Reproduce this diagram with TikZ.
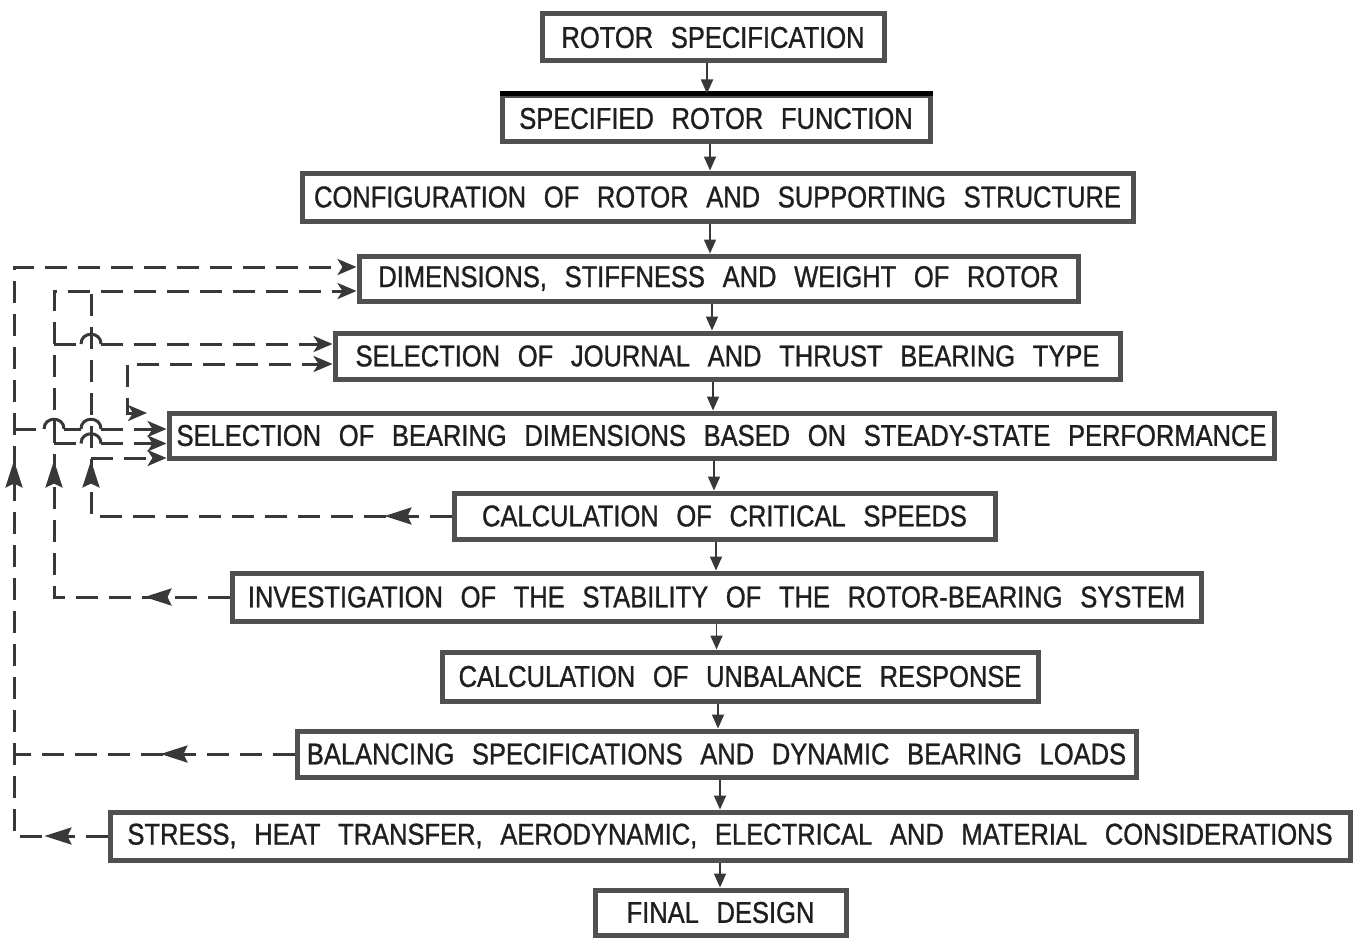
\documentclass[tikz,border=0pt]{standalone}
\usepackage{fontspec}
\setmainfont{Liberation Sans}[FakeStretch=0.85,WordSpace=2.5,FakeBold=1]
\usetikzlibrary{arrows.meta,decorations.markings,calc}
\definecolor{boxgray}{HTML}{505050}
\definecolor{linegray}{HTML}{383838}
\tikzset{
  stagebox/.style={draw=boxgray, line width=5pt, fill=white, inner sep=0pt,
    font=\fontsize{30}{36}\selectfont, text=black!88},
  flow/.style={draw=linegray, line width=1.8pt, -{Triangle[length=14pt,width=12pt]}},
  fbline/.style={draw=linegray, line width=3pt, dash pattern=on 22pt off 11pt},
  hopline/.style={draw=linegray, line width=3pt},
  intip/.style={-{Stealth[length=19pt,width=16pt,inset=5pt]}},
  midarr/.style={postaction={decorate, decoration={markings,
    mark=at position #1 with {\arrow{Stealth[length=27pt,width=17pt,inset=4pt]}}}}}
}
\begin{document}
\begin{tikzpicture}[x=1pt,y=-1pt]
\useasboundingbox[fill=white] (0,0) rectangle (1356,939);

% boxes
\node[stagebox, minimum width=342, minimum height=47] (b1) at (713,37.5) {ROTOR SPECIFICATION};
\node[stagebox, minimum width=428, minimum height=45] (b2) at (716,118.5) {SPECIFIED ROTOR FUNCTION};
\node[stagebox, minimum width=831, minimum height=48] (b3) at (717.5,197) {CONFIGURATION OF ROTOR AND SUPPORTING STRUCTURE};
\node[stagebox, minimum width=719, minimum height=45] (b4) at (718.5,278.5) {DIMENSIONS, STIFFNESS AND WEIGHT OF ROTOR};
\node[stagebox, minimum width=785, minimum height=46] (b5) at (727.5,356) {SELECTION OF JOURNAL AND THRUST BEARING TYPE};
\node[stagebox, minimum width=1105, minimum height=45] (b6) at (721.5,435.5) {SELECTION OF BEARING DIMENSIONS BASED ON STEADY-STATE PERFORMANCE};
\node[stagebox, minimum width=541, minimum height=46] (b7) at (724.5,516) {CALCULATION OF CRITICAL SPEEDS};
\node[stagebox, minimum width=969, minimum height=48] (b8) at (716.5,597) {INVESTIGATION OF THE STABILITY OF THE ROTOR-BEARING SYSTEM};
\node[stagebox, minimum width=596, minimum height=49] (b9) at (740,676.5) {CALCULATION OF UNBALANCE RESPONSE};
\node[stagebox, minimum width=839, minimum height=46] (b10) at (716.5,754) {BALANCING SPECIFICATIONS AND DYNAMIC BEARING LOADS};
\node[stagebox, minimum width=1240, minimum height=48] (b11) at (730,836) {STRESS, HEAT TRANSFER, AERODYNAMIC, ELECTRICAL AND MATERIAL CONSIDERATIONS};
\node[stagebox, minimum width=251, minimum height=45] (b12) at (720.5,912.5) {FINAL DESIGN};

% heavy black rule on top of box 2
\draw[black, line width=4.5pt] (b2.north west) -- (b2.north east);

% main flow arrows
\coordinate (f1) at ([xshift=-6pt]b1.south);
\coordinate (f2) at ([xshift=-6pt]b2.south);
\coordinate (f3) at ([xshift=-7.5pt]b3.south);
\coordinate (f4) at ([xshift=-6.5pt]b4.south);
\coordinate (f5) at ([xshift=-14.5pt]b5.south);
\coordinate (f6) at ([xshift=-7.5pt]b6.south);
\coordinate (f7) at ([xshift=-8.5pt]b7.south);
\coordinate (f8) at ([xshift=0pt]b8.south);
\coordinate (f9) at ([xshift=-22pt]b9.south);
\coordinate (f10) at ([xshift=3.5pt]b10.south);
\coordinate (f11) at ([xshift=-10pt]b11.south);
\draw[flow] (f1) -- (f1 |- b2.north);
\draw[flow] (f2) -- (f2 |- b3.north);
\draw[flow] (f3) -- (f3 |- b4.north);
\draw[flow] (f4) -- (f4 |- b5.north);
\draw[flow] (f5) -- (f5 |- b6.north);
\draw[flow] (f6) -- (f6 |- b7.north);
\draw[flow] (f7) -- (f7 |- b8.north);
\draw[flow] (f8) -- (f8 |- b9.north);
\draw[flow] (f9) -- (f9 |- b10.north);
\draw[flow] (f10) -- (f10 |- b11.north);
\draw[flow] (f11) -- (f11 |- b12.north);

% rails and ports
\coordinate (railA) at (14,0);
\coordinate (railB) at (54,0);
\coordinate (railC) at (91,0);
\coordinate (railD) at (127,0);
\coordinate (p4a) at ([yshift=11.5pt]b4.west);
\coordinate (p4b) at ([yshift=-12.5pt]b4.west);
\coordinate (p5a) at ([yshift=12pt]b5.west);
\coordinate (p5b) at ([yshift=-8pt]b5.west);
\coordinate (p6a) at ([yshift=6.5pt]b6.west);
\coordinate (p6b) at ([yshift=-8pt]b6.west);
\coordinate (p6c) at ([yshift=-22.5pt]b6.west);
\coordinate (dEnd) at (147,413);

% line A: stress & balancing -> dimensions
\draw[fbline, intip, midarr=63pt, midarr=469pt] (b11.west) -- (railA |- b11.west) -- (railA |- p4a) -- (p4a);
\draw[fbline, midarr=134pt] (b10.west) -- (railA |- b10.west);
% line A branch -> bearing dimensions (top)
\draw[fbline] (railA |- p6a) -- (44,429);
\draw[hopline] (44,429) .. controls (44,416) and (64,416) .. (64,429);
\draw[fbline] (64,429) -- (81,429);
\draw[hopline] (81,429) .. controls (81,416) and (101,416) .. (101,429);
\draw[fbline, intip] (101,429) -- (p6a);

% line B: stability -> dimensions
\draw[fbline, intip, midarr=85pt, midarr=312pt] (b8.west) -- (railB |- b8.west) -- (railB |- p4b) -- (p4b);
% line B branch -> journal bearing type (top)
\draw[fbline] (railB |- p5a) -- (81,344);
\draw[hopline] (81,344) .. controls (81,331) and (101,331) .. (101,344);
\draw[fbline, intip] (101,344) -- (p5a);
% line B branch -> bearing dimensions (middle)
\draw[fbline] (railB |- p6b) -- (81,443.5);
\draw[hopline] (81,443.5) .. controls (81,430.5) and (101,430.5) .. (101,443.5);
\draw[fbline, intip] (101,443.5) -- (p6b);

% line C: critical speeds -> dimensions
\draw[fbline, midarr=67pt, midarr=416pt] (b7.west) -- (railC |- b7.west) -- (railC |- p4b);
\draw[fbline, intip] (railC |- p6c) -- (p6c);

% line D: journal bearing type <-> bearing dimensions
\draw[fbline, {Stealth[length=19pt,width=16pt,inset=5pt]}-{Stealth[length=19pt,width=16pt,inset=5pt]}]
  (dEnd) -- (railD |- dEnd) -- (railD |- p5b) -- (p5b);
\end{tikzpicture}
\end{document}
